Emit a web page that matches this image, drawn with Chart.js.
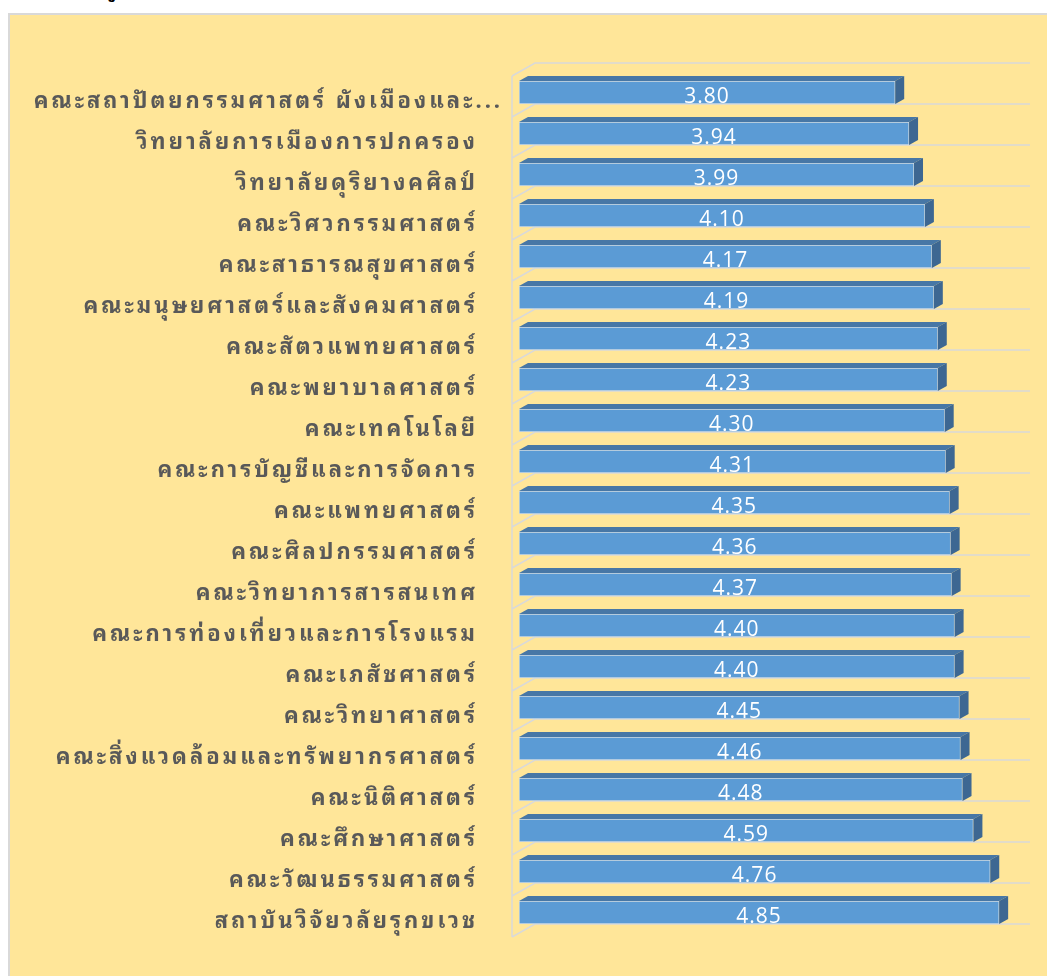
<!DOCTYPE html>
<html>
<head>
<meta charset="utf-8">
<script src="https://cdn.jsdelivr.net/npm/chart.js"></script>
<style>
  html, body { margin: 0; padding: 0; background: #fff; overflow: hidden; }
  #panel { position: absolute; left: 8px; top: 13px; width: 1050px; height: 980px; background: #FFE699; border: 2px solid #D9D9D9; box-sizing: border-box; }
  #cut { position: absolute; left: 106px; top: -21px; font: bold 20px "Noto Sans Thai", "Noto Sans", sans-serif; line-height: 24px; color: #000; }
  #wrap { position: absolute; left: 0; top: 0; }
</style>
</head>
<body>
<div id="panel"></div>
<div id="cut">รู</div>
<div id="wrap"><canvas id="chart" width="1047" height="976"></canvas></div>
<script>
const faculties = [
  "คณะสถาปัตยกรรมศาสตร์ ผังเมืองและ...",
  "วิทยาลัยการเมืองการปกครอง",
  "วิทยาลัยดุริยางคศิลป์",
  "คณะวิศวกรรมศาสตร์",
  "คณะสาธารณสุขศาสตร์",
  "คณะมนุษยศาสตร์และสังคมศาสตร์",
  "คณะสัตวแพทยศาสตร์",
  "คณะพยาบาลศาสตร์",
  "คณะเทคโนโลยี",
  "คณะการบัญชีและการจัดการ",
  "คณะแพทยศาสตร์",
  "คณะศิลปกรรมศาสตร์",
  "คณะวิทยาการสารสนเทศ",
  "คณะการท่องเที่ยวและการโรงแรม",
  "คณะเภสัชศาสตร์",
  "คณะวิทยาศาสตร์",
  "คณะสิ่งแวดล้อมและทรัพยากรศาสตร์",
  "คณะนิติศาสตร์",
  "คณะศึกษาศาสตร์",
  "คณะวัฒนธรรมศาสตร์",
  "สถาบันวิจัยวลัยรุกขเวช"
];
const scores = [3.80, 3.94, 3.99, 4.10, 4.17, 4.19, 4.23, 4.23, 4.30, 4.31, 4.35, 4.36, 4.37, 4.40, 4.40, 4.45, 4.46, 4.48, 4.59, 4.76, 4.85];
const axisMin = 0;
const axisMax = 5;

const FRONT = '#5B9BD5';
const TOP = '#4777A6';
const SIDE = '#3D6792';
const GRID = '#D9D9D9';
const DEPTH_X = 9, DEPTH_Y = -5;     // bar depth
const WALL_X = 23, WALL_Y = -13;     // floor/wall depth
const WALL_SHIFT_X = -7, WALL_SHIFT_Y = 4; // front wall relative to bar front

// side wall and back gridlines
const wallPlugin = {
  id: 'walls',
  beforeDatasetsDraw(chart) {
    const ctx = chart.ctx;
    const ys = chart.scales.y, xs = chart.scales.x;
    const half = (ys.getPixelForValue(1) - ys.getPixelForValue(0)) / 2;
    const fx = chart.chartArea.left + WALL_SHIFT_X;
    const backEnd = xs.getPixelForValue(axisMax) + WALL_X + WALL_SHIFT_X;
    ctx.save();
    ctx.strokeStyle = GRID;
    ctx.lineWidth = 1.5;
    ctx.beginPath();
    const y0 = ys.getPixelForValue(0) - half + WALL_SHIFT_Y;
    const yN = ys.getPixelForValue(faculties.length - 1) + half + WALL_SHIFT_Y;
    ctx.moveTo(fx, y0);
    ctx.lineTo(fx, yN);
    for (let i = 0; i <= faculties.length; i++) {
      const yb = y0 + i * 2 * half;
      ctx.moveTo(fx, yb);
      ctx.lineTo(fx + WALL_X, yb + WALL_Y);
      ctx.lineTo(backEnd, yb + WALL_Y);
    }
    ctx.stroke();
    ctx.restore();
  }
};

// top and side faces of the bars, value labels, category labels
const barPlugin = {
  id: 'bars3d',
  afterDatasetsDraw(chart) {
    const ctx = chart.ctx;
    const meta = chart.getDatasetMeta(0);
    ctx.save();
    meta.data.forEach((bar, i) => {
      const p = bar.getProps(['x', 'y', 'base', 'height'], true);
      const top = p.y - p.height / 2, bottom = p.y + p.height / 2;
      ctx.fillStyle = TOP;
      ctx.beginPath();
      ctx.moveTo(p.base, top);
      ctx.lineTo(p.x, top);
      ctx.lineTo(p.x + DEPTH_X, top + DEPTH_Y);
      ctx.lineTo(p.base + DEPTH_X, top + DEPTH_Y);
      ctx.closePath();
      ctx.fill();
      ctx.fillStyle = SIDE;
      ctx.beginPath();
      ctx.moveTo(p.x, top);
      ctx.lineTo(p.x + DEPTH_X, top + DEPTH_Y);
      ctx.lineTo(p.x + DEPTH_X, bottom + DEPTH_Y);
      ctx.lineTo(p.x, bottom);
      ctx.closePath();
      ctx.fill();

      ctx.fillStyle = '#FFFFFF';
      ctx.font = '21px "Open Sans", sans-serif';
      ctx.letterSpacing = '1px';
      ctx.textAlign = 'center';
      ctx.textBaseline = 'middle';
      ctx.fillText(scores[i].toFixed(2), (p.base + p.x) / 2, p.y + 5);
    });

    const ys = chart.scales.y;
    ctx.fillStyle = '#595959';
    ctx.font = 'bold 22px "Noto Sans Thai Looped", "Noto Sans Thai", "Noto Sans", sans-serif';
    ctx.letterSpacing = '3px';
    ctx.textAlign = 'right';
    ctx.textBaseline = 'alphabetic';
    faculties.forEach((name, i) => {
      const right = name.endsWith('...') ? 503 : 478;
      ctx.fillText(name, right, ys.getPixelForValue(i) + 15);
    });
    ctx.restore();
  }
};

new Chart(document.getElementById('chart'), {
  type: 'bar',
  data: {
    labels: faculties,
    datasets: [{
      data: scores,
      backgroundColor: FRONT,
      borderColor: 'rgba(205,218,232,0.9)',
      borderWidth: 1,
      borderSkipped: false,
      barThickness: 23
    }]
  },
  options: {
    indexAxis: 'y',
    responsive: false,
    animation: false,
    layout: { padding: { left: 519, right: 33, top: 72, bottom: 43 } },
    scales: {
      x: { display: false, min: axisMin, max: axisMax },
      y: { display: false }
    },
    plugins: {
      legend: { display: false },
      tooltip: { enabled: false }
    }
  },
  plugins: [wallPlugin, barPlugin]
});
</script>
</body>
</html>
